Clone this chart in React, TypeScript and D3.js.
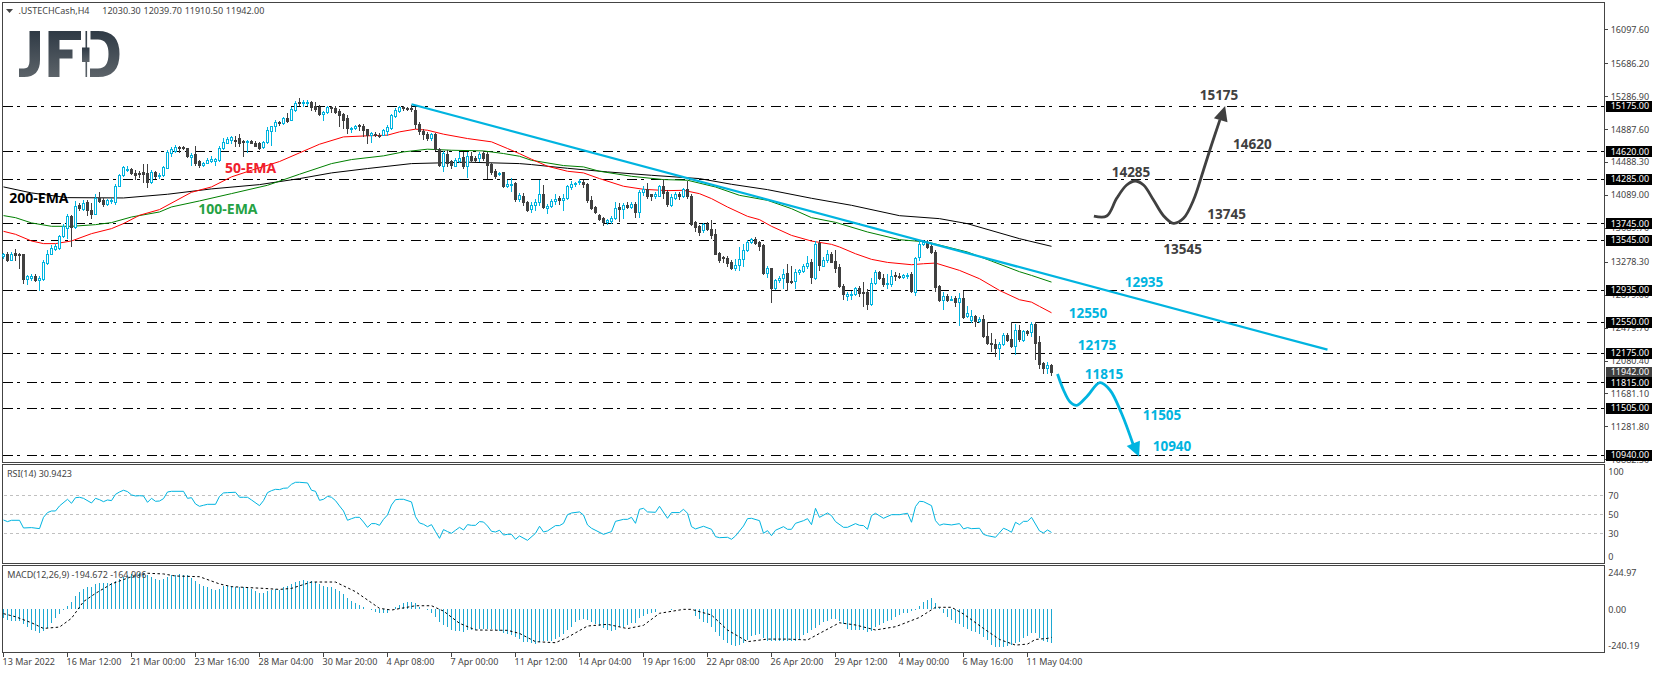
import React from "react";
import * as d3 from "d3";

const opens = [13345,13377,13304,13385,13377,13369,13069,13077,13110,13061,
13069,13268,13377,13438,13442,13596,13693,13831,13701,13968,
13924,14005,13912,13863,14057,14033,13976,14017,14009,14203,
14333,14402,14406,14357,14357,14365,14357,14244,14365,14321,
14333,14422,14604,14624,14669,14669,14657,14552,14584,14503,
14450,14483,14503,14503,14511,14657,14722,14754,14762,14782,
14750,14730,14742,14726,14714,14673,14730,14868,14924,14973,
14957,15029,15005,15119,15216,15203,15203,15216,15175,15159,
15070,15094,15159,15143,15110,15066,15021,14892,14900,14936,
14932,14884,14811,14835,14823,14819,14867,14900,15046,15110,
15151,15143,15139,15119,14956,14868,14835,14778,14835,14649,
14446,14592,14503,14446,14503,14551,14446,14560,14535,14535,
14600,14584,14470,14381,14341,14365,14199,14207,14231,14037,
14081,14004,13919,13968,14004,14105,13935,13960,14016,14053,
14033,14053,14186,14223,14243,14251,14219,14033,13939,13850,
13814,13757,13773,13806,13939,13919,13972,13947,13984,13887,
14130,14162,14097,14081,14081,14195,14122,13968,14057,14102,
14081,14162,14081,13757,13717,13660,13741,13676,13611,13385,
13340,13328,13271,13198,13239,13312,13417,13514,13559,13514,
13478,13142,13198,12955,13052,13077,13142,13048,13044,13150,
13166,13223,13271,13085,13506,13231,13295,13368,13291,13210,
12988,12858,12874,12890,12963,12907,12907,12761,13020,13150,
13085,13008,13012,13113,13109,13089,13109,13125,12915,13336,
13494,13514,13466,13401,12988,12818,12866,12818,12842,12785,
12834,12615,12567,12615,12554,12583,12380,12299,12283,12234,
12275,12396,12336,12259,12453,12332,12433,12425,12518,12307,
12048,11987,12030.3];
const highs = [13385,13397,13397,13438,13385,13377,13114,13134,13126,13102,
13296,13417,13486,13499,13608,13734,13863,13843,14017,13993,
14025,14025,13993,14098,14126,14057,14045,14057,14220,14349,
14438,14438,14418,14390,14381,14470,14462,14390,14381,14357,
14446,14632,14673,14693,14681,14685,14665,14600,14681,14519,
14495,14535,14564,14535,14681,14778,14794,14807,14803,14835,
14754,14754,14762,14746,14730,14746,14916,14932,14997,14989,
15037,15078,15151,15232,15264,15240,15240,15232,15216,15183,
15106,15167,15175,15167,15127,15078,15058,14916,14940,14948,
14948,14892,14859,14851,14843,14884,14936,15070,15139,15167,
15167,15159,15183,15151,14973,14884,14851,14843,14843,14657,
14624,14632,14519,14535,14612,14608,14612,14612,14560,14608,
14624,14608,14479,14406,14365,14373,14267,14300,14243,14118,
14114,14016,14000,14041,14276,14207,13984,14041,14097,14081,
14105,14207,14259,14251,14288,14267,14235,14073,13960,13862,
13822,13802,13838,14000,13992,13992,14000,14000,14000,14146,
14195,14235,14105,14122,14211,14288,14146,14097,14122,14122,
14178,14259,14097,13773,13725,13749,13757,13781,13676,13401,
13348,13352,13295,13316,13457,13490,13538,13563,13579,13530,
13490,13223,13206,13073,13101,13190,13255,13223,13190,13190,
13255,13344,13312,13530,13530,13336,13417,13393,13425,13255,
13004,12915,12923,12972,12980,13036,12947,13085,13174,13166,
13133,13125,13182,13150,13142,13133,13142,13150,13336,13538,
13538,13547,13506,13417,12996,12911,12882,12866,12866,12898,
12923,12745,12688,12631,12607,12631,12550,12413,12340,12307,
12413,12413,12550,12518,12506,12445,12453,12546,12546,12380,
12064,12068,12039.7];
const lows = [13328,13288,13296,13304,13203,13021,13012,13053,13045,12940,
13061,13256,13369,13417,13434,13580,13571,13466,13693,13904,
13912,13843,13814,13855,14005,13960,13964,13993,13976,14195,
14317,14381,14341,14288,14308,14248,14187,14236,14300,14300,
14325,14414,14560,14608,14616,14645,14552,14454,14454,14430,
14442,14475,14491,14450,14503,14649,14714,14714,14681,14681,
14568,14612,14714,14681,14653,14665,14722,14697,14868,14940,
14948,14973,14997,15110,15183,15175,15183,15119,15110,15054,
14997,15086,15102,15086,14924,14908,14843,14859,14892,14876,
14803,14714,14730,14803,14795,14811,14815,14892,15037,15102,
15119,15119,15110,14896,14835,14770,14762,14762,14641,14442,
14381,14438,14422,14438,14487,14418,14309,14487,14503,14503,
14511,14292,14349,14300,14333,14187,14186,14138,14016,14016,
13964,13895,13883,13911,13964,13927,13871,13943,13984,13976,
13911,14045,14166,14199,14219,14186,14004,13923,13871,13782,
13729,13741,13749,13798,13773,13806,13927,13935,13822,13822,
14085,14057,14024,14057,14073,14057,13952,13960,14045,14045,
14065,14057,13721,13652,13603,13636,13660,13571,13368,13279,
13279,13231,13190,13182,13174,13223,13409,13506,13498,13425,
13125,13093,12789,12947,13032,12955,12931,13020,12963,13125,
13150,13206,13020,13069,13174,13223,13279,13271,13150,12972,
12826,12818,12826,12874,12858,12745,12704,12753,13012,13069,
12988,12955,12988,13061,13077,13077,13085,12907,12874,13295,
13482,13449,13385,12919,12801,12704,12801,12809,12745,12510,
12599,12607,12550,12494,12542,12364,12283,12202,12137,12097,
12267,12323,12242,12161,12323,12323,12396,12384,12101,11991,
11927,11927,11910.5];
const closes = [13369,13304,13377,13361,13357,13069,13102,13110,13053,13085,
13280,13377,13450,13466,13596,13709,13831,13701,13960,13928,
13993,13912,13855,14057,14017,13976,14025,14033,14203,14333,
14430,14410,14357,14333,14349,14349,14244,14365,14325,14333,
14430,14616,14645,14669,14657,14657,14568,14576,14479,14454,
14483,14511,14523,14527,14665,14738,14770,14790,14754,14714,
14738,14742,14722,14689,14665,14738,14876,14924,14973,14957,
15021,14989,15127,15208,15200,15212,15212,15159,15127,15070,
15094,15151,15143,15098,15058,15005,14900,14904,14924,14928,
14876,14819,14843,14819,14811,14876,14916,15058,15119,15159,
15139,15135,15127,14948,14868,14827,14778,14827,14649,14450,
14600,14479,14454,14519,14543,14438,14560,14511,14519,14592,
14535,14454,14373,14317,14357,14195,14219,14227,14041,14085,
14004,13911,13968,14008,14105,13943,13960,14020,14045,14033,
14057,14195,14227,14235,14259,14219,14024,13935,13879,13802,
13757,13781,13814,13935,13923,13972,13943,13984,13879,14130,
14158,14073,14081,14097,14195,14114,13984,14065,14097,14081,
14162,14073,13733,13700,13644,13733,13676,13603,13376,13296,
13324,13263,13198,13239,13312,13425,13522,13555,13506,13474,
13142,13198,12955,13052,13085,13133,13036,13032,13158,13174,
13231,13263,13093,13490,13239,13304,13368,13279,13206,12984,
12887,12882,12890,12963,12899,12895,12769,13024,13150,13081,
13004,13024,13109,13101,13097,13121,13121,12919,13328,13498,
13518,13457,13397,12972,12809,12866,12809,12830,12789,12842,
12607,12656,12615,12558,12587,12372,12291,12275,12234,12283,
12396,12332,12251,12453,12340,12433,12417,12526,12295,12040,
11987,12028,11942];

const ema50Bars = [0,3,7,10,13,17,22,27,30,34,39,47,52,57,62,69,74,79,85,91,96,99,103,106,110,116,122,126,129,132,136,141,145,149,155,160,166,170,174,177,181,186,189,192,197,202,207,209,213,217,221,227,230,233,239,244,249,254,257,259,262];
const ema50Vals = [13648,13612,13531,13499,13499,13531,13620,13681,13742,13843,13912,14122,14187,14309,14389,14495,14600,14705,14794,14807,14815,14855,14888,14875,14827,14774,14734,14653,14591,14523,14438,14377,14357,14288,14195,14158,14142,14146,14105,14045,13943,13830,13790,13709,13599,13530,13490,13458,13376,13308,13271,13243,13255,13263,13174,13073,12931,12818,12789,12737,12660];
const ema100Bars = [0,3,7,12,17,23,27,32,39,42,49,57,66,74,82,87,95,100,106,112,120,125,129,132,140,145,149,157,165,171,178,184,191,197,202,208,216,224,231,241,247,254,257,262];
const ema100Vals = [13839,13814,13750,13709,13709,13729,13754,13822,13883,13944,14017,14106,14207,14341,14470,14519,14564,14612,14645,14632,14624,14592,14559,14510,14446,14430,14377,14316,14276,14268,14186,14085,14024,13923,13814,13757,13640,13547,13518,13397,13287,13158,13113,13032];
const ema200Bars = [0,7,16,30,41,52,64,74,82,91,102,116,129,132,141,151,162,174,182,191,202,212,224,234,241,254,262];
const ema200Vals = [14187,14114,14057,14053,14098,14163,14215,14288,14357,14410,14470,14487,14470,14458,14413,14369,14328,14288,14219,14154,14049,13964,13838,13802,13741,13559,13466];

const levels = [15175,14620,14285,13745,13545,12935,12550,12175,11815,11505,10940];
const priceTicks = [16097.6,15686.2,15286.9,14887.6,14488.3,14089.0,13689.7,13278.3,12879.0,12479.7,12080.4,11681.1,11281.8,10882.5];
const lastPrice = 11942;

const trendBars = [102,331];
const trendPrices = [15190,12212];

const darkPathBars = [272.6,275.8,278.3,280.8,282.9,285,287.5,290,292.5,295,297.5,300,302,304.1];
const darkPathPrices = [13834,13834,14049,14210,14259,14210,14028,13838,13745,13806,14028,14393,14696,15000];
const darkHeadBars = [305.4,302.6,306];
const darkHeadPrices = [15169,15019,14971];
const cyanPathBars = [263.5,265,266.6,268.3,270.8,274.1,276.6,279.5,282.6];
const cyanPathPrices = [11917,11723,11581,11537,11642,11812,11723,11440,11035];
const cyanHeadBars = [283.9,280.8,284.1];
const cyanHeadPrices = [10913,11043,11107];

const rsiBars = [0,1,2,4,5,7,9,10,11,12,13,14,16,17,18,19,20,22,23,24,25,26,27,28,29,30,31,32,33,34,35,36,37,38,39,40,41,42,45,46,47,48,49,50,51,53,54,55,56,58,59,60,61,62,64,65,66,67,68,69,70,71,72,73,74,76,77,78,79,80,81,82,83,84,85,86,87,88,89,90,91,92,93,94,95,96,97,98,99,100,102,103,104,105,106,107,108,109,110,111,112,113,114,115,116,117,118,119,120,121,122,123,124,125,126,127,128,129,131,133,134,135,136,138,139,140,141,142,144,145,146,147,150,152,153,155,156,157,158,159,160,161,163,164,166,167,169,170,171,172,173,175,177,178,179,181,182,183,185,186,187,189,190,191,192,193,195,196,197,198,200,201,202,203,204,206,207,208,210,211,213,214,215,216,217,218,220,222,224,226,227,228,229,230,232,233,234,235,237,239,240,241,242,244,245,246,248,250,251,252,253,254,255,256,257,259,260,261,262];
const rsiVals = [44,42.3,43.7,43.7,35.6,36,34.9,46.8,51.8,53.5,53.5,58.8,65.8,61.6,67.5,67.9,66.8,61.9,66.8,65.4,63.3,65.1,64.4,71,73.5,75.3,73.9,70.4,69.3,69.6,69.3,62.6,66.8,63.7,64,66.5,73.5,74.2,74.2,66.8,67.5,60.9,58.4,59.5,60.5,60.5,68.9,72.5,72.8,73.2,67.9,67.9,67.9,65.1,59.1,64.4,72.8,74.9,76.3,76,77.4,77.7,81.6,83.7,83.7,83,75.3,74.2,64.7,65.8,68.9,67.9,64.4,58.8,53.5,43.7,45.4,46.8,46.8,41.9,36.3,40.2,40.2,38.4,44.7,49.3,59.8,65.4,65.8,65.8,63,47.5,40.9,39.5,37,39.1,31.8,24.7,33.9,31.8,30,33.2,36.3,33.5,39.1,38.4,38.4,42.3,41.9,37.7,32.1,31.4,33.2,28.2,28.9,28.9,23.7,27.2,22.6,30,37.4,31.4,32.5,38.1,38.1,40.5,49.6,51.4,52.5,49.3,38.8,35.3,28.9,31.8,42.6,44.7,44.7,46.8,40.5,55.3,56.3,52.5,52.1,58.4,45.8,51.8,51.8,55.3,51.1,37,34.6,37.4,34.2,26.5,25.4,25.8,23.7,27.2,37.7,45.4,45.8,43.3,30,32.8,27.5,33.2,37,34.2,34.2,40.5,43.3,45.4,39.1,56.3,46.8,51.4,48.6,42.3,36.3,36.3,40.2,38.4,38.1,34.2,48.6,51.1,45.8,49.6,49.6,51.1,41.6,58.1,63.7,63.3,59.1,43.3,38.4,39.8,38.8,40.2,34.6,36,34.9,35.3,28.9,27.5,25.8,35.3,33.5,31.1,41.6,39.1,42.6,42.6,46.8,32.5,30.4,33.5,30.9];
const rsiLevels = [70,50,30];

const macdHist = [-50,-64,-68,-68,-68,-87,-107,-122,-130,-138,
-130,-113,-80,-54,-31,-4,19,41,76,99,
118,128,130,146,149,149,153,153,165,173,
188,196,202,206,208,208,196,188,175,169,
173,188,196,200,204,200,196,180,165,146,
134,126,114,111,114,134,134,134,130,130,
126,122,114,107,95,95,107,111,114,111,
126,134,146,157,165,169,165,161,157,146,
134,130,126,118,103,87,66,49,37,23,
10,0,-4,-16,-21,-23,-23,0,14,23,
33,39,41,33,14,2,-8,-23,-45,-76,
-93,-107,-122,-130,-130,-132,-122,-122,-122,-114,
-114,-114,-118,-122,-126,-142,-146,-153,-161,-175,
-190,-194,-200,-202,-192,-188,-184,-184,-177,-165,
-146,-122,-103,-78,-64,-60,-64,-78,-87,-99,
-111,-122,-126,-122,-107,-103,-93,-83,-80,-54,
-39,-29,-21,-16,0,-2,0,-4,0,0,
0,0,-2,-39,-60,-74,-83,-103,-132,-157,
-180,-200,-210,-213,-210,-200,-180,-157,-149,-146,
-171,-184,-184,-184,-184,-188,-184,-188,-184,-177,
-151,-138,-122,-111,-93,-78,-68,-56,-56,-68,
-87,-114,-122,-122,-122,-122,-132,-126,-107,-93,
-80,-68,-62,-45,-37,-25,-21,-14,-6,19,
41,52,64,37,4,-25,-49,-64,-80,-87,
-103,-116,-128,-136,-146,-165,-180,-207,-219,-223,
-219,-215,-210,-200,-190,-171,-157,-142,-138,-171,
-184,-190,-195];
const signalBars = [0,3,7,10,14,17,20,23,27,32,36,40,43,49,54,57,65,69,72,77,83,88,94,97,103,107,110,114,118,126,129,133,138,141,146,151,156,160,164,170,172,177,181,186,191,196,201,204,209,213,218,223,229,233,237,240,245,249,253,256,258,261,262];
const signalVals = [-27,-45,-80,-113,-105,-54,43,91,146,188,208,204,192,188,146,130,120,114,120,157,157,101,4,-6,19,19,-12,-83,-122,-124,-142,-190,-196,-165,-99,-89,-114,-95,-25,-2,-2,-35,-122,-190,-175,-175,-180,-142,-80,-93,-122,-103,-49,10,10,-29,-113,-177,-210,-204,-177,-171,-165];

const timeLabels = ["13 Mar 2022","16 Mar 12:00","21 Mar 00:00","23 Mar 16:00","28 Mar 04:00","30 Mar 20:00","4 Apr 08:00","7 Apr 00:00","11 Apr 12:00","14 Apr 04:00","19 Apr 16:00","22 Apr 08:00","26 Apr 20:00","29 Apr 12:00","4 May 00:00","6 May 16:00","11 May 04:00"];
const timeLabelStep = 16;

const darkNotes = [["15175",1199.7,100],["14620",1233,148.5],["14285",1111.7,176.7],["13745",1207.3,219],["13545",1163.3,253.7]] as const;
const cyanNotes = [["12935",1124.7,287],["12550",1068.7,317.7],["12175",1077.7,350],["11815",1084.7,379],["11505",1142.7,420],["10940",1152.7,450.7]] as const;
const emaNotes = [["50-EMA",225,173,"#f0202c"],["100-EMA",198.3,214,"#25a244"],["200-EMA",9.3,202.7,"#000000"]] as const;

const CYAN = "#00b4e0";
const DARK = "#404040";
const FRAME = "#444444";
const UI = "'Noto Sans', 'Liberation Sans', sans-serif";
const BOLD = "'Open Sans', 'Noto Sans', sans-serif";

const WIDTH = 1655, HEIGHT = 673;
const right = 1604.5;

const x = d3.scaleLinear().domain([0, 262]).range([3.5, 1051.5]);
const y = d3.scaleLinear().domain([10940, 15175]).range([454.5, 105.5]);
const yRsi = d3.scaleLinear().domain([0, 100]).range([561.8, 466.8]);
const yMacd = d3.scaleLinear().domain([-240.19, 244.97]).range([650.3, 566.9]);

const poly = (bars: number[], vals: number[], ys: (v: number) => number, curve = d3.curveLinear) =>
  d3.line<number>().x((_, i) => x(bars[i])).y((v) => ys(v)).curve(curve)(vals) as string;

const px = (v: number) => Math.round(v);

function Candles() {
  return (
    <g shapeRendering="crispEdges">
      {closes.map((c, i) => {
        const up = c >= opens[i];
        const col = up ? CYAN : DARK;
        const cx = x(i);
        const top = px(y(Math.max(opens[i], c)));
        const bot = px(y(Math.min(opens[i], c)));
        return (
          <g key={i}>
            <line x1={cx} x2={cx} y1={px(y(highs[i]))} y2={px(y(lows[i])) + 1} stroke={col} />
            {up ? (
              <rect x={cx - 1} y={top + 0.5} width={2} height={Math.max(bot - top, 1)} fill="#fff" stroke={col} />
            ) : (
              <rect x={cx - 1.5} y={top} width={3} height={Math.max(bot - top + 1, 2)} fill={col} />
            )}
          </g>
        );
      })}
    </g>
  );
}

function Logo() {
  return (
    <g fill="url(#logoGrad)">
      <path d="M29.5 31 H40 V60 Q40 77 24 77 H19 V68.5 H24 Q29.5 68.5 29.5 61 Z" />
      <path d="M48.5 31 H81 V40 H59.5 V49.5 H72.5 V58.5 H59.5 V77 H48.5 Z" />
      <rect x="85.5" y="31" width="1.6" height="46" />
      <rect x="82" y="47.5" width="7.5" height="14.5" />
      <path d="M90.5 31 H98 Q119.5 31 119.5 54 Q119.5 77 98 77 H90 V68.5 H98 Q108.5 68.5 108.5 54 Q108.5 39.5 98 39.5 H90.5 Z" />
    </g>
  );
}

export default function App() {
  return (
    <svg
      width={WIDTH}
      height={HEIGHT}
      viewBox={`0 0 ${WIDTH} ${HEIGHT}`}
      style={{ position: "absolute", left: 0, top: 0, display: "block", background: "#fff" }}
    >
      <defs>
        <linearGradient id="logoGrad" x1="0" y1="0" x2="0" y2="1">
          <stop offset="0" stopColor="#2f3a45" />
          <stop offset="1" stopColor="#5c6369" />
        </linearGradient>
      </defs>

      {/* panel frames */}
      <g fill="none" stroke={FRAME} shapeRendering="crispEdges">
        <rect x={2.5} y={2.5} width={right - 2.5} height={460} />
        <rect x={2.5} y={464.5} width={right - 2.5} height={99} />
        <rect x={2.5} y={565.5} width={right - 2.5} height={87} />
      </g>

      <Logo />

      {/* horizontal levels */}
      <g stroke="#000" shapeRendering="crispEdges">
        {levels.map((l) => (
          <line key={l} x1={3} x2={right} y1={px(y(l)) + 0.5} y2={px(y(l)) + 0.5} strokeDasharray="10,4,3,7" />
        ))}
      </g>

      {/* moving averages */}
      <g fill="none" strokeWidth={1}>
        <path d={poly(ema200Bars, ema200Vals, y)} stroke="#000" />
        <path d={poly(ema100Bars, ema100Vals, y)} stroke="#008000" />
        <path d={poly(ema50Bars, ema50Vals, y)} stroke="#ff0000" />
      </g>

      <Candles />

      {/* trendline and projected paths */}
      <path d={poly(trendBars, trendPrices, y)} fill="none" stroke={CYAN} strokeWidth={2.2} />
      <path d={poly(darkPathBars, darkPathPrices, y, d3.curveCatmullRom)} fill="none" stroke={DARK} strokeWidth={2.8} />
      <path d={poly(darkHeadBars, darkHeadPrices, y) + "Z"} fill={DARK} />
      <path d={poly(cyanPathBars, cyanPathPrices, y, d3.curveCatmullRom)} fill="none" stroke={CYAN} strokeWidth={2.8} />
      <path d={poly(cyanHeadBars, cyanHeadPrices, y) + "Z"} fill={CYAN} />

      {/* annotations */}
      <g fontFamily={BOLD} fontWeight={700} fontSize={13.5}>
        {darkNotes.map(([t, tx, ty]) => (
          <text key={t} x={tx} y={ty} fill={DARK}>{t}</text>
        ))}
        {cyanNotes.map(([t, tx, ty]) => (
          <text key={t} x={tx} y={ty} fill={CYAN}>{t}</text>
        ))}
      </g>
      <g fontFamily={BOLD} fontWeight={700} fontSize={14}>
        {emaNotes.map(([t, tx, ty, c]) => (
          <text key={t} x={tx} y={ty} fill={c}>{t}</text>
        ))}
      </g>

      {/* title */}
      <path d="M6 9 H13 L9.5 13 Z" fill={FRAME} />
      <g fontFamily={UI} fontSize={9} fill={FRAME}>
        <text x={18.5} y={14}>.USTECHCash,H4</text>
        <text x={102.3} y={14} wordSpacing="0.4">12030.30 12039.70 11910.50 11942.00</text>
        <text x={7} y={477}>RSI(14) 30.9423</text>
      </g>

      {/* price axis */}
      <g fontFamily={UI} fontSize={9} fill={FRAME}>
        {priceTicks.map((t) => (
          <g key={t}>
            <line x1={right} x2={right + 3} y1={px(y(t)) + 0.5} y2={px(y(t)) + 0.5} stroke={FRAME} shapeRendering="crispEdges" />
            <text x={1610.7} y={y(t) + 3.4}>{t.toFixed(2)}</text>
          </g>
        ))}
      </g>
      <g fontFamily={UI} fontSize={9} fill="#fff">
        <rect x={1606} y={px(y(lastPrice)) - 5} width={45.7} height={11} fill={DARK} shapeRendering="crispEdges" />
        <text x={1610.7} y={y(lastPrice) + 3.4}>{lastPrice.toFixed(2)}</text>
        {levels.map((l) => (
          <g key={l}>
            <rect x={1606} y={px(y(l)) - 5} width={45.7} height={11} fill="#000" shapeRendering="crispEdges" />
            <text x={1610.7} y={y(l) + 3.4}>{l.toFixed(2)}</text>
          </g>
        ))}
      </g>

      {/* RSI */}
      <g stroke="#c0c0c0" strokeDasharray="3,3" shapeRendering="crispEdges">
        {rsiLevels.map((l) => (
          <line key={l} x1={4} x2={right} y1={px(yRsi(l)) + 0.5} y2={px(yRsi(l)) + 0.5} />
        ))}
      </g>
      <path d={poly(rsiBars, rsiVals, yRsi)} fill="none" stroke={CYAN} strokeWidth={1} />
      <g fontFamily={UI} fontSize={9} fill={FRAME}>
        <text x={1608.3} y={474.8}>100</text>
        {rsiLevels.map((l) => (
          <text key={l} x={1608.3} y={yRsi(l) + 3.2}>{l}</text>
        ))}
        <text x={1608.3} y={559.5}>0</text>
      </g>

      {/* MACD */}
      <g stroke="#1ea8d2" shapeRendering="crispEdges">
        {macdHist.map((v, i) => (
          <line key={i} x1={x(i)} x2={x(i)} y1={yMacd(0)} y2={yMacd(v)} />
        ))}
      </g>
      <path d={poly(signalBars, signalVals, yMacd)} fill="none" stroke="#000" strokeWidth={1} strokeDasharray="2.5,2.5" />
      <g fontFamily={UI} fontSize={9} fill={FRAME}>
        <text x={7.3} y={578}>MACD(12,26,9) -194.672 -164.906</text>
        <text x={1608.3} y={575.5}>244.97</text>
        <text x={1608.3} y={612.5}>0.00</text>
        <text x={1608.3} y={648.5}>-240.19</text>
      </g>

      {/* time axis */}
      <g fontFamily={UI} fontSize={9} fill={FRAME}>
        {timeLabels.map((t, k) => {
          const tx = x(k * timeLabelStep);
          return (
            <g key={t}>
              <line x1={tx} x2={tx} y1={653} y2={657} stroke={FRAME} shapeRendering="crispEdges" />
              <text x={tx - 1} y={665}>{t}</text>
            </g>
          );
        })}
      </g>
    </svg>
  );
}
